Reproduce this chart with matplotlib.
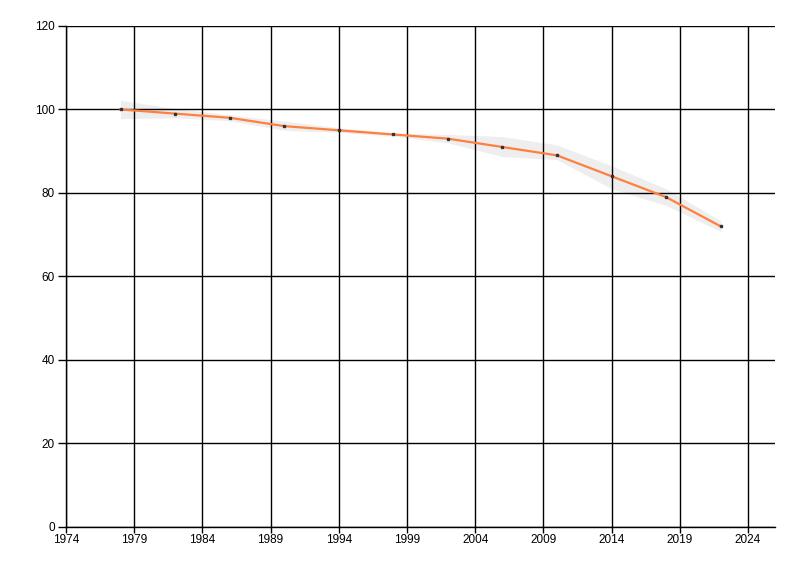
import matplotlib
matplotlib.use("Agg")
import matplotlib.pyplot as plt

years = [1978, 1982, 1986, 1990, 1994, 1998, 2002, 2006, 2010, 2014, 2018, 2022]
values = [100, 99, 98, 96, 95, 94, 93, 91, 89, 84, 79, 72]
upper = [102.2, 100.2, 98.7, 97.2, 95.6, 94.4, 94.0, 93.5, 91.5, 86.5, 81.0, 73.3]
lower = [97.8, 98.0, 97.3, 95.0, 94.5, 93.6, 92.0, 88.7, 88.0, 81.0, 77.0, 70.8]
xticks = [1974, 1979, 1984, 1989, 1994, 1999, 2004, 2009, 2014, 2019, 2024]
yticks = [0, 20, 40, 60, 80, 100, 120]

plt.rcParams['font.family'] = ['Liberation Sans', 'DejaVu Sans']
fig = plt.figure(figsize=(8, 5.76), dpi=100)
ax = fig.add_axes([0.0825, 0.0851, 0.969 - 0.0825, 0.955 - 0.0851])

ax.fill_between(years, lower, upper, color='#EEEEEE', lw=0, zorder=1)
ax.plot(years, values, color='#FF7F3F', lw=1.6, zorder=3)
ax.plot(years, values, ls='none', marker='s', ms=1.8, color='#333333', zorder=4)

ax.set_xlim(1974, 2026)
ax.set_ylim(0, 120)
ax.set_xticks(xticks)
ax.set_yticks(yticks)
ax.grid(True, color='black', lw=1, zorder=2)
ax.set_axisbelow(False)
for s in ['top', 'right']:
    ax.spines[s].set_visible(False)
for s in ['left', 'bottom']:
    ax.spines[s].set_color('black')
    ax.spines[s].set_linewidth(1)
ax.tick_params(axis='y', length=6, width=1, labelsize=8.5, pad=2)
ax.tick_params(axis='x', length=4, width=1, labelsize=8.5, pad=1)

fig.savefig('out.png', dpi=100)
